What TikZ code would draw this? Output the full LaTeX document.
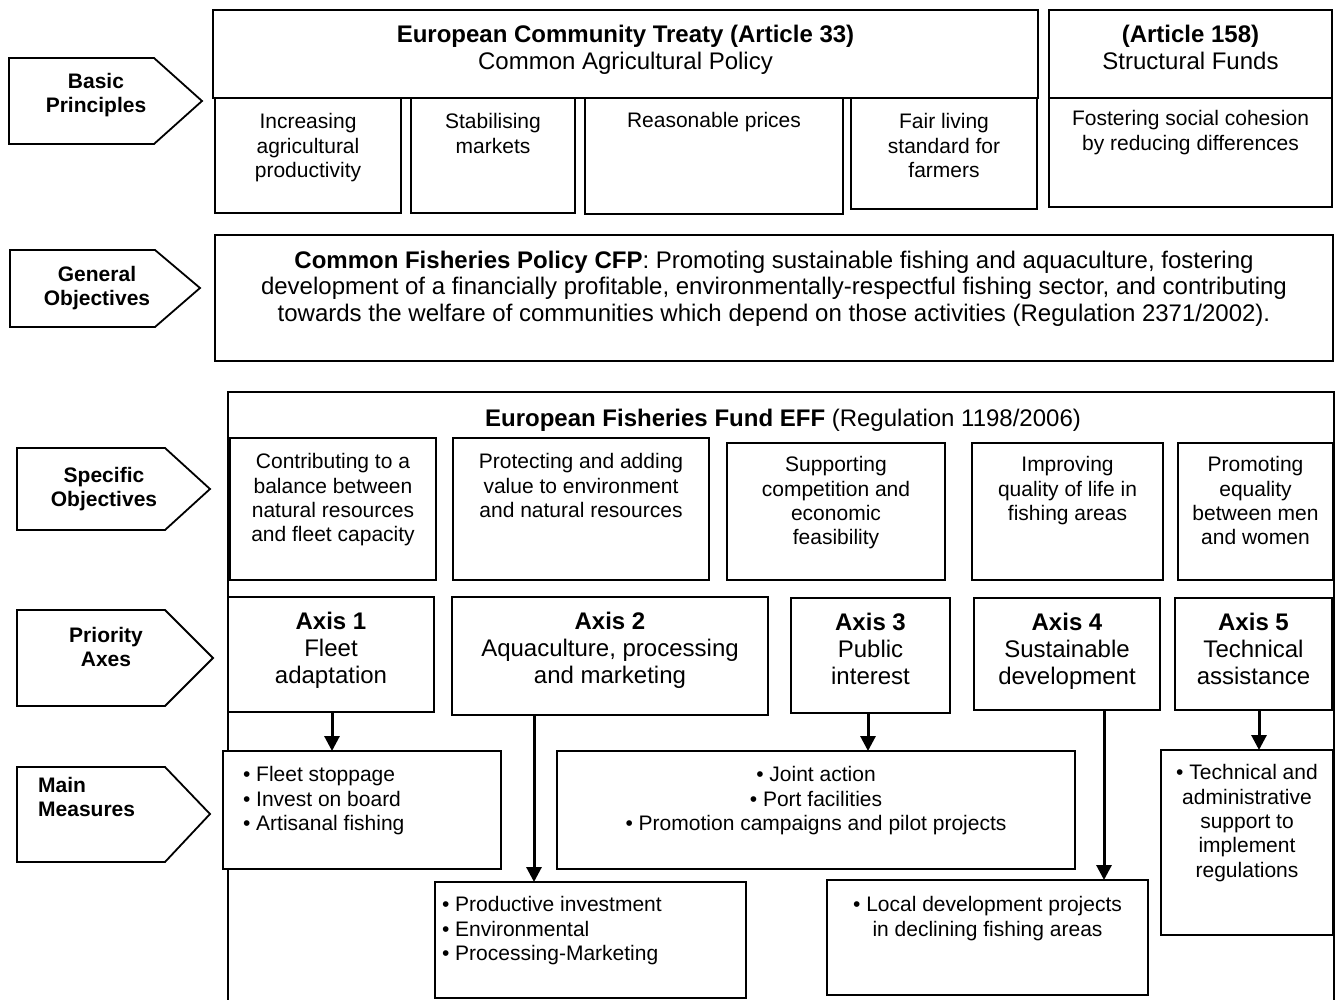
\documentclass[tikz,border=0pt]{standalone}
\usepackage{fontspec}
\setmainfont{Liberation Sans}
\usetikzlibrary{arrows.meta}
\newcommand\fsA{\fontsize{21}{24.4}\selectfont}
\newcommand\fsB{\fontsize{24}{27}\selectfont}
\newcommand\fsC{\fontsize{24}{26.5}\selectfont}
\newcommand{\mybox}[8]{\node[box,anchor=north west] (#1) at (#2,#3) {\parbox[t][#5pt][t]{#4pt}{\vspace*{#6pt}#7\strut #8}};}
\tikzset{
  box/.style={draw, line width=1.8pt, inner sep=0pt, outer sep=0pt, fill=white},
  edge/.style={line width=1.8pt, line join=miter},
  tagtext/.style={font=\fsA\bfseries, align=center, inner sep=0pt},
  arr/.style={line width=3pt, -{Triangle[width=15pt,length=15pt]}},
}
\begin{document}
\begin{tikzpicture}[x=1pt,y=-1pt]
\fill[white] (0,0) rectangle (1335,1000);
\useasboundingbox (0,0) rectangle (1335,1000);

% ---- left tags ----
\draw[edge] (9,58) -- (154,58) -- (202,101) -- (154,144) -- (9,144) -- cycle;
\node[tagtext] (bp) at (96,95) {Basic\\Principles};
\draw[edge] (10,250) -- (155,250) -- (200,288) -- (155,327) -- (10,327) -- cycle;
\node[tagtext] (go) at (97,288) {General\\Objectives};
\draw[edge] (17,448) -- (165,448) -- (210,489) -- (165,530) -- (17,530) -- cycle;
\node[tagtext] (so) at (104,489) {Specific\\Objectives};
\draw[edge] (17,610) -- (165,610) -- (213,658) -- (165,706) -- (17,706) -- cycle;
\node[tagtext] (pa) at (106,647) {Priority\\Axes};
\draw[edge] (17,767) -- (165,767) -- (210,814) -- (165,862) -- (17,862) -- cycle;
\node[tagtext, align=left, anchor=west] (mm) at (38,797) {Main\\Measures};

% ---- top row ----
\mybox{cap}{213}{10}{825}{88}{13.8}{\centering\fsB}{\textbf{European Community Treaty (Article 33)}\\Common Agricultural Policy}
\mybox{p1}{215}{98}{186}{115}{13.7}{\centering\fsA}{Increasing\\agricultural\\productivity}
\mybox{p2}{411}{98}{164}{115}{13.7}{\centering\fsA}{Stabilising\\markets}
\mybox{p3}{585}{98}{258}{116}{12.7}{\centering\fsA}{Reasonable prices}
\mybox{p4}{851}{98}{186}{111}{13.7}{\centering\fsA}{Fair living\\standard for\\farmers}
\mybox{art}{1049}{10}{283}{88}{13.8}{\centering\fsB}{\textbf{(Article 158)}\\Structural Funds}
\mybox{sf}{1049}{98}{283}{109}{10.7}{\centering\fsA}{Fostering social cohesion\\by reducing differences}

% ---- CFP ----
\mybox{cfp}{215}{235}{1118}{126}{14.5}{\centering\fsC}{\textbf{Common Fisheries Policy CFP}: Promoting sustainable fishing and aquaculture, fostering\\development of a financially profitable, environmentally-respectful fishing sector, and contributing\\towards the welfare of communities which depend on those activities (Regulation 2371/2002).}

% ---- EFF frame ----
\draw[edge] (228,1002) -- (228,392) -- (1334,392) -- (1334,1002);
\node[anchor=base, font=\fsB, inner sep=0pt] (eff) at (783,426) {\textbf{European Fisheries Fund EFF} (Regulation 1198/2006)};

% ---- specific objectives ----
\mybox{s1}{230}{438}{206}{142}{13.7}{\centering\fsA}{Contributing to a\\balance between\\natural resources\\and fleet capacity}
\mybox{s2}{453}{438}{256}{142}{13.7}{\centering\fsA}{Protecting and adding\\value to environment\\and natural resources}
\mybox{s3}{727}{443}{218}{137}{11.7}{\centering\fsA}{Supporting\\competition and\\economic\\feasibility}
\mybox{s4}{972}{443}{191}{137}{11.7}{\centering\fsA}{Improving\\quality of life in\\fishing areas}
\mybox{s5}{1178}{443}{155}{137}{11.7}{\centering\fsA}{Promoting\\equality\\between men\\and women}

% ---- axes ----
\mybox{a1}{228}{597}{206}{115}{13.8}{\centering\fsB}{\textbf{Axis 1}\\Fleet\\adaptation}
\mybox{a2}{452}{597}{316}{118}{13.3}{\centering\fsB}{\textbf{Axis 2}\\Aquaculture, processing\\and marketing}
\mybox{a3}{791}{598}{159}{115}{13.8}{\centering\fsB}{\textbf{Axis 3}\\Public\\interest}
\mybox{a4}{974}{598}{186}{112}{13.8}{\centering\fsB}{\textbf{Axis 4}\\Sustainable\\development}
\mybox{a5}{1175}{598}{157}{112}{13.8}{\centering\fsB}{\textbf{Axis 5}\\Technical\\assistance}

% ---- measures ----
\mybox{m1}{223}{751}{278}{118}{13.7}{\raggedright\leftskip=20pt\fsA}{\textbullet\ Fleet stoppage\\\textbullet\ Invest on board\\\textbullet\ Artisanal fishing}
\mybox{m3}{557}{751}{518}{118}{13.7}{\centering\fsA}{\textbullet\ Joint action\\\textbullet\ Port facilities\\\textbullet\ Promotion campaigns and pilot projects}
\mybox{m5}{1161}{750}{172}{185}{12.7}{\centering\fsA}{\textbullet\ Technical and\\administrative\\support to\\implement\\regulations}
\mybox{m2}{435}{882}{311}{116}{12.7}{\raggedright\leftskip=7pt\fsA}{\textbullet\ Productive investment\\\textbullet\ Environmental\\\textbullet\ Processing-Marketing}
\mybox{m4}{827}{880}{321}{115}{14.7}{\centering\fsA}{\textbullet\ Local development projects\\in declining fishing areas}

% ---- connectors ----
\coordinate (x1) at (332,0);
\coordinate (x2) at (534,0);
\coordinate (x3) at (868,0);
\coordinate (x4) at (1104,0);
\coordinate (x5) at (1259,0);
\draw[arr] (a1.south -| x1) -- (m1.north -| x1);
\draw[arr] (a2.south -| x2) -- (m2.north -| x2);
\draw[arr] (a3.south -| x3) -- (m3.north -| x3);
\draw[arr] (a4.south -| x4) -- (m4.north -| x4);
\draw[arr] (a5.south -| x5) -- (m5.north -| x5);
\end{tikzpicture}
\end{document}
